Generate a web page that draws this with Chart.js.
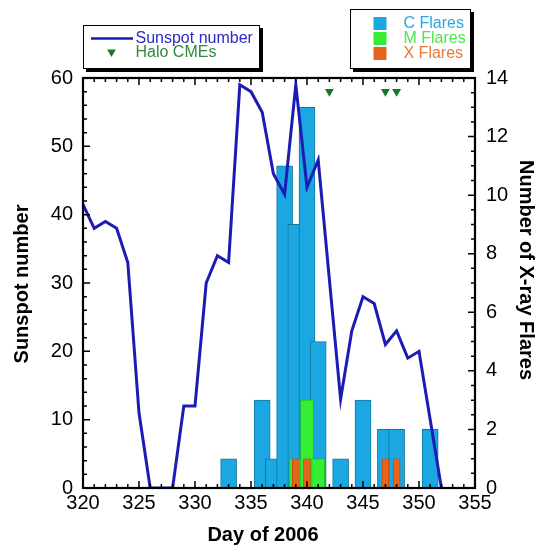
<!DOCTYPE html>
<html>
<head>
<meta charset="utf-8">
<script src="https://cdn.jsdelivr.net/npm/chart.js@4/dist/chart.umd.min.js"></script>
<style>
  html, body { margin: 0; padding: 0; background: #fff; }
  #wrap { width: 537px; height: 552px; position: relative; }
</style>
</head>
<body>
<div id="wrap"><canvas id="chart" width="537" height="552"></canvas></div>
<script>
// Daily sunspot number, days 320-352 of 2006
const sunspotDays    = [320, 321, 322, 323, 324, 325, 326, 327, 328, 329, 330, 331, 332, 333, 334, 335, 336,
                        337, 338, 339, 340, 341, 343, 344, 345, 346, 347, 348, 349, 350, 351, 352];
const sunspotNumbers = [41.5, 38, 39, 38, 33, 11, 0, 0, 0, 12, 12, 30, 34, 33, 59, 58, 55,
                        46, 43, 59, 44, 48, 13, 23, 28, 27, 21, 23, 19, 20, 10, 0];

// Halo CME dates and the height at which their markers sit (sunspot scale)
const cmeDays = [342, 347, 348];
const cmeMarkerLevel = 58;

// Daily X-ray flare counts by class
const cFlareDays   = [333, 336, 337, 338, 339, 340, 341, 343, 345, 347, 348, 351];
const cFlareCounts = [1, 3, 1, 11, 9, 13, 5, 1, 3, 2, 2, 2];
const mFlareDays   = [339, 340, 341];
const mFlareCounts = [1, 3, 1];
const xFlareDays   = [339, 340, 347, 348];
const xFlareCounts = [1, 1, 1, 1];

// Axis tick labels
const dayTicks     = [320, 325, 330, 335, 340, 345, 350, 355];
const sunspotTicks = [0, 10, 20, 30, 40, 50, 60];
const flareTicks   = [0, 2, 4, 6, 8, 10, 12, 14];

const FONT = '"Liberation Sans", Arial, Helvetica, sans-serif';
const LINE_BLUE = '#1c1cb4';
const CME_GREEN = '#16792a';
const C_BLUE = '#1aa7e2';
const M_GREEN = '#33ee33';
const X_ORANGE = '#e8631c';

Chart.defaults.font.family = FONT;
Chart.defaults.color = '#000';

const pairs = (xs, ys) => xs.map((x, i) => ({ x: x, y: ys[i] }));
const setTicks = list => scale => { scale.ticks = list.map(v => ({ value: v })); };

// Frame with inward-pointing major/minor ticks on all four sides
const framePlugin = {
  id: 'frame',
  afterDatasetsDraw(chart) {
    const { ctx, chartArea: ca, scales } = chart;
    ctx.save();
    ctx.strokeStyle = '#000';
    ctx.lineWidth = 1.5;
    ctx.beginPath();
    const xs = scales.x;
    for (let d = xs.min; d <= xs.max; d += 1) {
      const px = xs.getPixelForValue(d);
      const len = d % 5 === 0 ? 7 : 4;
      ctx.moveTo(px, ca.bottom); ctx.lineTo(px, ca.bottom - len);
      ctx.moveTo(px, ca.top); ctx.lineTo(px, ca.top + len);
    }
    const yl = scales.y;
    for (let v = yl.min; v <= yl.max; v += 2) {
      const py = yl.getPixelForValue(v);
      const len = v % 10 === 0 ? 7 : 4;
      ctx.moveTo(ca.left, py); ctx.lineTo(ca.left + len, py);
    }
    const yr = scales.y2;
    for (let v = yr.min; v <= yr.max; v += 0.5) {
      const py = yr.getPixelForValue(v);
      const len = v % 2 === 0 ? 7 : 4;
      ctx.moveTo(ca.right, py); ctx.lineTo(ca.right - len, py);
    }
    ctx.stroke();
    ctx.lineWidth = 2.2;
    ctx.strokeRect(ca.left, ca.top, ca.right - ca.left, ca.bottom - ca.top);
    ctx.restore();
  }
};

// Axis titles
const titlePlugin = {
  id: 'axisTitles',
  afterDraw(chart) {
    const ctx = chart.ctx;
    ctx.save();
    ctx.fillStyle = '#000';
    ctx.font = 'bold 20px ' + FONT;
    ctx.textAlign = 'center';
    ctx.textBaseline = 'middle';
    ctx.fillText('Day of 2006', 263, 535);
    ctx.save();
    ctx.translate(22, 284);
    ctx.rotate(-Math.PI / 2);
    ctx.fillText('Sunspot number', 0, 0);
    ctx.restore();
    ctx.save();
    ctx.translate(526, 270);
    ctx.rotate(Math.PI / 2);
    ctx.fillText('Number of X-ray Flares', 0, 0);
    ctx.restore();
    ctx.restore();
  }
};

// Two boxed legends with drop shadows above the plot
function shadowBox(ctx, x, y, w, h) {
  ctx.fillStyle = '#000';
  ctx.fillRect(x + 3, y + 3, w, h);
  ctx.fillStyle = '#fff';
  ctx.fillRect(x, y, w, h);
  ctx.strokeStyle = '#000';
  ctx.lineWidth = 1;
  ctx.strokeRect(x + 0.5, y + 0.5, w - 1, h - 1);
}
function downTriangle(ctx, cx, cy, r, color) {
  ctx.fillStyle = color;
  ctx.beginPath();
  ctx.moveTo(cx - r * 0.866, cy - r * 0.5);
  ctx.lineTo(cx + r * 0.866, cy - r * 0.5);
  ctx.lineTo(cx, cy + r);
  ctx.closePath();
  ctx.fill();
}
const legendPlugin = {
  id: 'boxedLegends',
  afterDraw(chart) {
    const ctx = chart.ctx;
    ctx.save();
    ctx.font = '16px ' + FONT;
    ctx.textAlign = 'left';
    ctx.textBaseline = 'middle';

    shadowBox(ctx, 83, 25, 177, 44);
    ctx.strokeStyle = LINE_BLUE;
    ctx.lineWidth = 2.5;
    ctx.beginPath();
    ctx.moveTo(91, 38.5); ctx.lineTo(133, 38.5);
    ctx.stroke();
    ctx.fillStyle = '#2a2ac4';
    ctx.fillText('Sunspot number', 135.5, 38.5);
    downTriangle(ctx, 111.5, 52, 5, CME_GREEN);
    ctx.fillStyle = '#2e8a3a';
    ctx.fillText('Halo CMEs', 135.5, 53);

    shadowBox(ctx, 350, 9, 121, 60);
    const rows = [
      { label: 'C Flares', fill: C_BLUE, text: '#2aa6e0', y: 17 },
      { label: 'M Flares', fill: M_GREEN, text: '#4ee64e', y: 32 },
      { label: 'X Flares', fill: X_ORANGE, text: '#e8783a', y: 47 }
    ];
    rows.forEach(r => {
      ctx.fillStyle = r.fill;
      ctx.fillRect(373.5, r.y, 13, 13);
      ctx.fillStyle = r.text;
      ctx.fillText(r.label, 403.5, r.y + 7);
    });
    ctx.restore();
  }
};

const tickFont = { size: 20 };

new Chart(document.getElementById('chart'), {
  type: 'bar',
  data: {
    datasets: [
      {
        type: 'line',
        label: 'Sunspot number',
        data: pairs(sunspotDays, sunspotNumbers),
        yAxisID: 'y',
        borderColor: LINE_BLUE,
        borderWidth: 3,
        pointRadius: 0,
        tension: 0,
        order: 0
      },
      {
        type: 'line',
        label: 'Halo CMEs',
        data: cmeDays.map(d => ({ x: d, y: cmeMarkerLevel })),
        yAxisID: 'y',
        showLine: false,
        pointStyle: 'triangle',
        rotation: 180,
        pointRadius: 5.2,
        backgroundColor: CME_GREEN,
        borderColor: CME_GREEN,
        borderWidth: 0,
        order: 1
      },
      {
        label: 'X Flares',
        data: pairs(xFlareDays, xFlareCounts),
        yAxisID: 'y2',
        backgroundColor: X_ORANGE,
        borderColor: '#b4480e',
        borderWidth: 0.8,
        barThickness: 7,
        grouped: false,
        order: 2
      },
      {
        label: 'M Flares',
        data: pairs(mFlareDays, mFlareCounts),
        yAxisID: 'y2',
        backgroundColor: M_GREEN,
        borderColor: '#28b428',
        borderWidth: 0.8,
        barThickness: 13,
        grouped: false,
        order: 3
      },
      {
        label: 'C Flares',
        data: pairs(cFlareDays, cFlareCounts),
        yAxisID: 'y2',
        backgroundColor: C_BLUE,
        borderColor: '#13779f',
        borderWidth: 1,
        barThickness: 16,
        grouped: false,
        order: 4
      }
    ]
  },
  options: {
    responsive: false,
    animation: false,
    devicePixelRatio: 1,
    layout: { padding: { top: 78, left: 0, right: 0, bottom: 0 } },
    plugins: { legend: { display: false }, tooltip: { enabled: false } },
    scales: {
      x: {
        type: 'linear',
        min: 320, max: 355,
        offset: false,
        grid: { display: false, drawTicks: false, offset: false },
        border: { display: false },
        ticks: { font: tickFont, color: '#000', padding: 3, maxRotation: 0, autoSkip: false },
        afterBuildTicks: setTicks(dayTicks),
        afterFit: s => { s.height = 64; }
      },
      y: {
        type: 'linear',
        position: 'left',
        min: 0, max: 60,
        grid: { display: false, drawTicks: false },
        border: { display: false },
        ticks: { font: tickFont, color: '#000', padding: 10 },
        afterBuildTicks: setTicks(sunspotTicks),
        afterFit: s => { s.width = 83; }
      },
      y2: {
        type: 'linear',
        position: 'right',
        min: 0, max: 14,
        grid: { display: false, drawTicks: false },
        border: { display: false },
        ticks: { font: tickFont, color: '#000', padding: 11 },
        afterBuildTicks: setTicks(flareTicks),
        afterFit: s => { s.width = 62; }
      }
    }
  },
  plugins: [framePlugin, titlePlugin, legendPlugin]
});
</script>
</body>
</html>
